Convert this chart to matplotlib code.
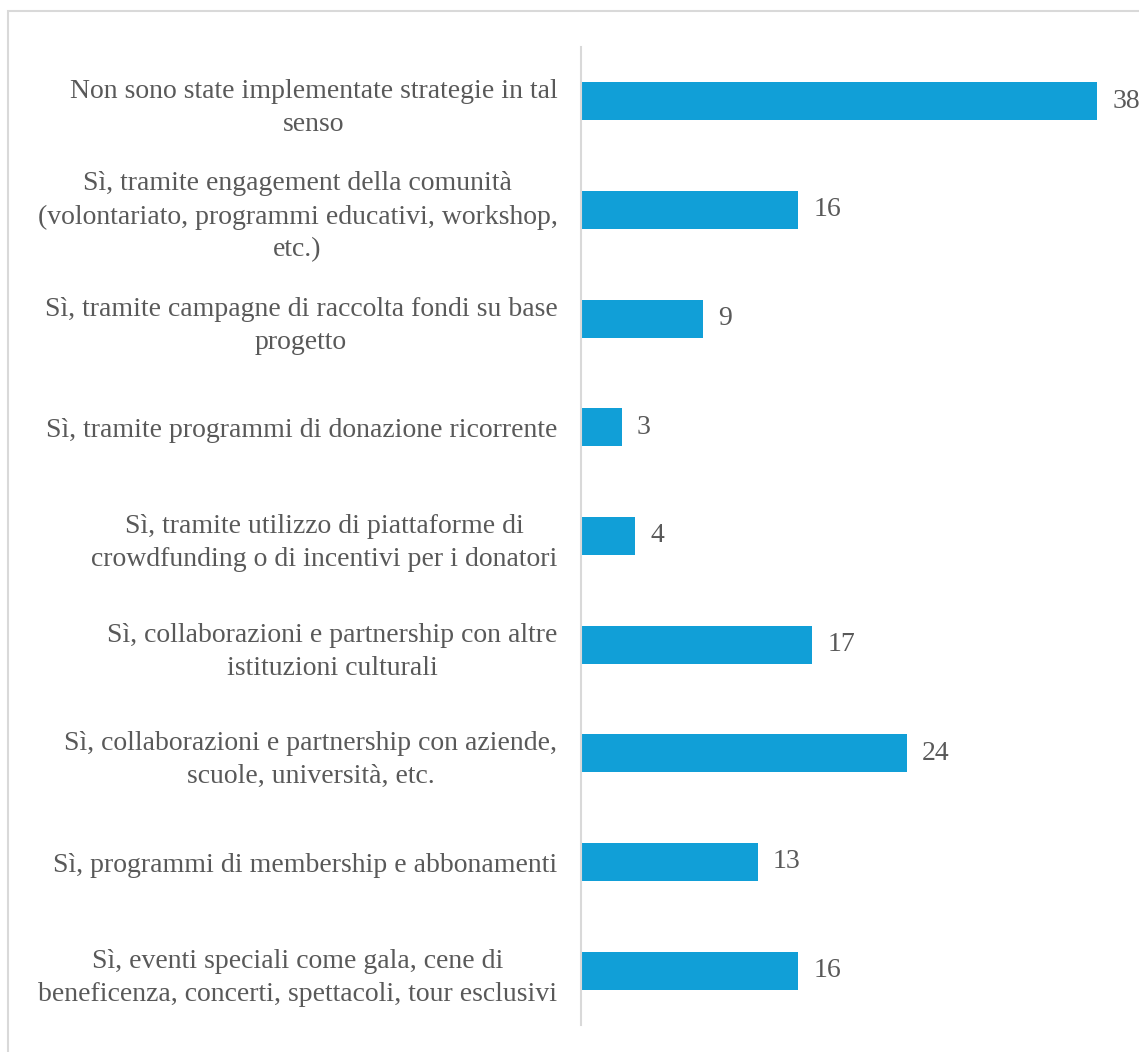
import matplotlib.pyplot as plt
from matplotlib.patches import Rectangle

categories = [
    "Non sono state implementate strategie in tal\nsenso",
    "Sì, tramite engagement della comunità\n(volontariato, programmi educativi, workshop,\netc.)",
    "Sì, tramite campagne di raccolta fondi su base\nprogetto",
    "Sì, tramite programmi di donazione ricorrente",
    "Sì, tramite utilizzo di piattaforme di\ncrowdfunding o di incentivi per i donatori",
    "Sì, collaborazioni e partnership con altre\nistituzioni culturali",
    "Sì, collaborazioni e partnership con aziende,\nscuole, università, etc.",
    "Sì, programmi di membership e abbonamenti",
    "Sì, eventi speciali come gala, cene di\nbeneficenza, concerti, spettacoli, tour esclusivi",
]
values = [38, 16, 9, 3, 4, 17, 24, 13, 16]

W, H = 1139, 1052
FS = 20
plt.rcParams['font.family'] = ['Liberation Serif', 'DejaVu Serif']
fig = plt.figure(figsize=(W / 100, H / 100), dpi=100)

# light frame around the chart area
fig.patches.append(Rectangle((8 / W, -0.02), 1.1, 1 - 11 / H + 0.02,
                             transform=fig.transFigure, fill=False,
                             edgecolor='#D9D9D9', linewidth=1.5))

ax = fig.add_axes([581 / W, 1 - 1025 / H, (40 * 13.58) / W, (1025 - 47) / H])
ypos = list(range(len(categories)))
ax.barh(ypos, values, height=0.35, color='#119FD7')
ax.set_ylim(len(categories) - 0.5, -0.5)
ax.set_xlim(0, 40)

for y, v in zip(ypos, values):
    ax.annotate(str(v), (v, y), xytext=(11, 0), textcoords='offset points',
                va='center', ha='left', fontsize=FS, color='#595959')

ax.set_yticks(ypos)
ax.set_yticklabels(categories, fontsize=FS, color='#595959',
                   multialignment='center', linespacing=1.42)
ax.tick_params(axis='y', length=0, pad=17)
ax.set_xticks([])
for s in ['top', 'right', 'bottom']:
    ax.spines[s].set_visible(False)
ax.spines['left'].set_color('#D9D9D9')
ax.spines['left'].set_linewidth(1.5)

fig.savefig('out.png', dpi=100)
